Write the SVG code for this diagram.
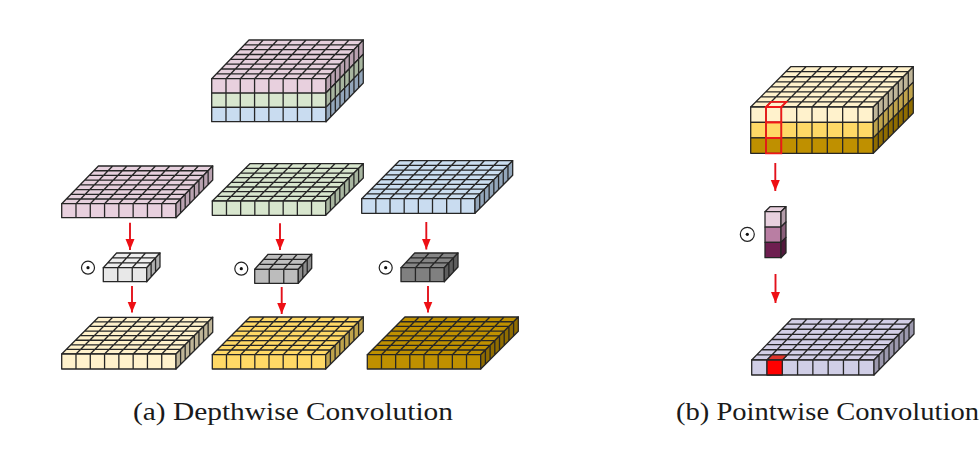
<svg xmlns="http://www.w3.org/2000/svg" xmlns:xlink="http://www.w3.org/1999/xlink" width="980" height="461" viewBox="0 0 980 461">
<style>
.g{stroke:#262626;stroke-width:1.3;vector-effect:non-scaling-stroke;stroke-linejoin:round}
.r{stroke:#f01818;stroke-width:1.8;fill:none;vector-effect:non-scaling-stroke}
.cap{font-family:"Liberation Serif","Times New Roman",serif;font-size:25px;fill:#1a1a1a}
.arr{stroke:#e3111b;stroke-width:1.9;fill:none;marker-end:url(#head)}
.odot{fill:none;stroke:#222;stroke-width:1.2}
.dot{fill:#111;stroke:none}
.pT{fill:#e6d0dd}.pS{fill:#b9a2b0}.pF{fill:#e8d0de}
.nT{fill:#d8e6ce}.nS{fill:#a8b6a0}.nF{fill:#d8e6ce}
.bT{fill:#cbdef0}.bS{fill:#93a6ba}.bF{fill:#c9dcf0}
.y1T{fill:#fff2cc}.y1S{fill:#bfb598}.y1F{fill:#fff2cc}
.y2T{fill:#ffd966}.y2S{fill:#bfa34c}.y2F{fill:#ffd966}
.y3T{fill:#bf9000}.y3S{fill:#8f6c00}.y3F{fill:#bf9000}
.lT{fill:#d3cfe7}.lS{fill:#9b98ad}.lF{fill:#d0cee6}
.k1T{fill:#eeeeee}.k1S{fill:#b0b0b0}.k1F{fill:#e8e8e8}
.k2T{fill:#bfbfbf}.k2S{fill:#8c8c8c}.k2F{fill:#bcbcbc}
.k3T{fill:#858585}.k3S{fill:#5e5e5e}.k3F{fill:#808080}
.s1S{fill:#b39ca9}.s2S{fill:#8a5f7a}.s3S{fill:#52183c}
.s1F{fill:#e8d0de}.s2F{fill:#b97ea3}.s3F{fill:#6e1e50}
</style>
<defs>
<path id="g88" class="g" d="M0 0H8V8H0ZM1 0V8M2 0V8M3 0V8M4 0V8M5 0V8M6 0V8M7 0V8M0 1H8M0 2H8M0 3H8M0 4H8M0 5H8M0 6H8M0 7H8"/>
<path id="g81" class="g" d="M0 0H8V1H0ZM1 0V1M2 0V1M3 0V1M4 0V1M5 0V1M6 0V1M7 0V1"/>
<path id="g33" class="g" d="M0 0H3V3H0ZM1 0V3M2 0V3M0 1H3M0 2H3"/>
<path id="g31" class="g" d="M0 0H3V1H0ZM1 0V1M2 0V1"/>
<path id="g11" class="g" d="M0 0H1V1H0Z"/>
<path id="cell" class="r" d="M0 0H1V1H0Z"/>
<marker id="head" markerUnits="userSpaceOnUse" markerWidth="12" markerHeight="10" refX="11" refY="4.5" orient="auto"><path d="M0 0L11 4.5L0 9Z" fill="#ee0f14"/></marker>
</defs>

<g id="input-stack">
<use href="#g88" class="pT" transform="matrix(14.29,0,4.66,-4.84,211.7,78.7)"/>
<use href="#g81" class="pF" transform="matrix(14.29,0,0,14.33,211.7,78.7)"/>
<use href="#g81" class="nF" transform="matrix(14.29,0,0,14.33,211.7,93.03)"/>
<use href="#g81" class="bF" transform="matrix(14.29,0,0,14.33,211.7,107.37)"/>
<use href="#g81" class="pS" transform="matrix(4.66,-4.84,0,14.33,326,78.7)"/>
<use href="#g81" class="nS" transform="matrix(4.66,-4.84,0,14.33,326,93.03)"/>
<use href="#g81" class="bS" transform="matrix(4.66,-4.84,0,14.33,326,107.37)"/>
</g>

<g id="plate-pink">
<use href="#g88" class="pT" transform="matrix(14.29,0,4.59,-4.71,61.7,203.7)"/>
<use href="#g81" class="pF" transform="matrix(14.29,0,0,14,61.7,203.7)"/>
<use href="#g81" class="pS" transform="matrix(4.59,-4.71,0,14,176,203.7)"/>
</g>
<g id="plate-green">
<use href="#g88" class="nT" transform="matrix(14.175,0,4.7,-4.66,212.3,201)"/>
<use href="#g81" class="nF" transform="matrix(14.175,0,0,14.3,212.3,201)"/>
<use href="#g81" class="nS" transform="matrix(4.7,-4.66,0,14.3,325.7,201)"/>
</g>
<g id="plate-blue">
<use href="#g88" class="bT" transform="matrix(14.16,0,4.71,-4.75,361.7,198.7)"/>
<use href="#g81" class="bF" transform="matrix(14.16,0,0,14.6,361.7,198.7)"/>
<use href="#g81" class="bS" transform="matrix(4.71,-4.75,0,14.6,475,198.7)"/>
</g>

<g id="kernel-light">
<use href="#g33" class="k1T" transform="matrix(14.47,0,4.43,-4.9,103.3,267.7)"/>
<use href="#g31" class="k1F" transform="matrix(14.47,0,0,14,103.3,267.7)"/>
<use href="#g31" class="k1S" transform="matrix(4.43,-4.9,0,14,146.7,267.7)"/>
</g>
<g id="kernel-mid">
<use href="#g33" class="k2T" transform="matrix(14.53,0,4.47,-5,254.7,269.3)"/>
<use href="#g31" class="k2F" transform="matrix(14.53,0,0,14,254.7,269.3)"/>
<use href="#g31" class="k2S" transform="matrix(4.47,-5,0,14,298.3,269.3)"/>
</g>
<g id="kernel-dark">
<use href="#g33" class="k3T" transform="matrix(14.43,0,4.57,-4.9,401,267.7)"/>
<use href="#g31" class="k3F" transform="matrix(14.43,0,0,14,401,267.7)"/>
<use href="#g31" class="k3S" transform="matrix(4.57,-4.9,0,14,444.3,267.7)"/>
</g>

<g id="op-1"><circle class="odot" cx="88" cy="267.7" r="6.5"/><circle class="dot" cx="88" cy="267.7" r="1.6"/></g>
<g id="op-2"><circle class="odot" cx="241.3" cy="268.7" r="6.5"/><circle class="dot" cx="241.3" cy="268.7" r="1.6"/></g>
<g id="op-3"><circle class="odot" cx="385.7" cy="267.7" r="6.5"/><circle class="dot" cx="385.7" cy="267.7" r="1.6"/></g>

<g id="output-light">
<use href="#g88" class="y1T" transform="matrix(14.29,0,4.59,-4.59,61.7,354)"/>
<use href="#g81" class="y1F" transform="matrix(14.29,0,0,15,61.7,354)"/>
<use href="#g81" class="y1S" transform="matrix(4.59,-4.59,0,15,176,354)"/>
</g>
<g id="output-mid">
<use href="#g88" class="y2T" transform="matrix(14.175,0,4.7,-4.71,212.3,354.7)"/>
<use href="#g81" class="y2F" transform="matrix(14.175,0,0,14.3,212.3,354.7)"/>
<use href="#g81" class="y2S" transform="matrix(4.7,-4.71,0,14.3,325.7,354.7)"/>
</g>
<g id="output-dark">
<use href="#g88" class="y3T" transform="matrix(14.175,0,4.7,-4.71,367.3,354.7)"/>
<use href="#g81" class="y3F" transform="matrix(14.175,0,0,14.3,367.3,354.7)"/>
<use href="#g81" class="y3S" transform="matrix(4.7,-4.71,0,14.3,480.7,354.7)"/>
</g>

<g id="pw-input">
<use href="#g88" class="y1T" transform="matrix(15.325,0,5,-5.04,750.7,107)"/>
<use href="#g81" class="y1F" transform="matrix(15.325,0,0,15.43,750.7,107)"/>
<use href="#g81" class="y2F" transform="matrix(15.325,0,0,15.43,750.7,122.43)"/>
<use href="#g81" class="y3F" transform="matrix(15.325,0,0,15.43,750.7,137.86)"/>
<use href="#g81" class="y1S" transform="matrix(5,-5.04,0,15.43,873.3,107)"/>
<use href="#g81" class="y2S" transform="matrix(5,-5.04,0,15.43,873.3,122.43)"/>
<use href="#g81" class="y3S" transform="matrix(5,-5.04,0,15.43,873.3,137.86)"/>
<use href="#cell" transform="matrix(15.325,0,5,-5.04,766,107)"/>
<use href="#cell" transform="matrix(15.325,0,0,15.43,766,107)"/>
<use href="#cell" transform="matrix(15.325,0,0,15.43,766,122.43)"/>
<use href="#cell" transform="matrix(15.325,0,0,15.43,766,137.86)"/>
</g>

<g id="pw-kernel">
<use href="#g11" class="s1F" transform="matrix(16,0,5,-5,765,211.7)"/>
<use href="#g11" class="s1F" transform="matrix(16,0,0,15.33,765,211.7)"/>
<use href="#g11" class="s2F" transform="matrix(16,0,0,15.33,765,227.03)"/>
<use href="#g11" class="s3F" transform="matrix(16,0,0,15.33,765,242.37)"/>
<use href="#g11" class="s1S" transform="matrix(5,-5,0,15.33,781,211.7)"/>
<use href="#g11" class="s2S" transform="matrix(5,-5,0,15.33,781,227.03)"/>
<use href="#g11" class="s3S" transform="matrix(5,-5,0,15.33,781,242.37)"/>
</g>
<g id="op-4"><circle class="odot" cx="747.3" cy="234.3" r="7"/><circle class="dot" cx="747.3" cy="234.3" r="1.6"/></g>

<g id="pw-output">
<use href="#g88" class="lT" transform="matrix(15.29,0,5,-5.125,751.7,360)"/>
<use href="#g81" class="lF" transform="matrix(15.29,0,0,15,751.7,360)"/>
<use href="#g81" class="lS" transform="matrix(5,-5.125,0,15,874,360)"/>
<use href="#g11" style="fill:#e0352b" transform="matrix(15.29,0,5,-5.125,766.99,360)"/>
<use href="#g11" style="fill:#ff0000" transform="matrix(15.29,0,0,15,766.99,360)"/>
</g>

<g id="connectors">
<line class="arr" x1="130" y1="222.7" x2="130" y2="250"/>
<line class="arr" x1="132" y1="286" x2="132" y2="312.5"/>
<line class="arr" x1="280" y1="223.3" x2="280" y2="250"/>
<line class="arr" x1="281.7" y1="287" x2="281.7" y2="314"/>
<line class="arr" x1="426.3" y1="222" x2="426.3" y2="249.5"/>
<line class="arr" x1="428" y1="286" x2="428" y2="312.5"/>
<line class="arr" x1="775.3" y1="163" x2="775.3" y2="191"/>
<line class="arr" x1="775.5" y1="274" x2="775.5" y2="303"/>
</g>

<text class="cap" x="133" y="420" textLength="320" lengthAdjust="spacingAndGlyphs">(a) Depthwise Convolution</text>
<text class="cap" x="676" y="420" textLength="303" lengthAdjust="spacingAndGlyphs">(b) Pointwise Convolution</text>
</svg>
